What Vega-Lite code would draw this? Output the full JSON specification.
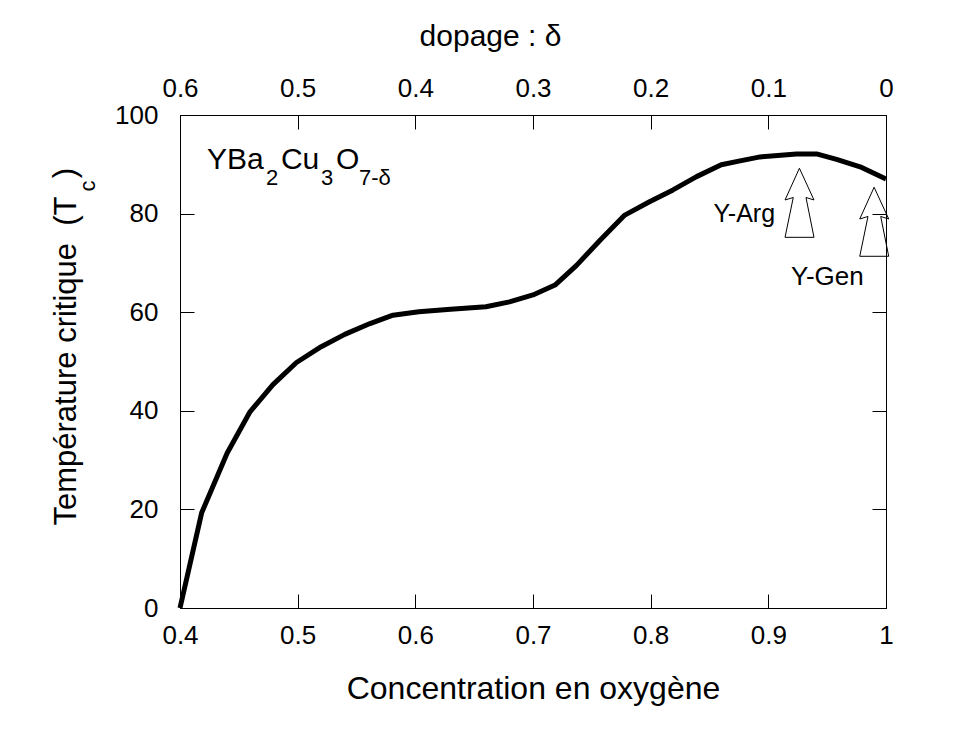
{
  "$schema": "https://vega.github.io/schema/vega-lite/v6.json",
  "width": 706,
  "height": 493,
  "autosize": "none",
  "padding": {"left": 180, "top": 115, "right": 67, "bottom": 121},
  "background": "white",
  "config": {
    "font": "Liberation Sans",
    "view": {"stroke": "black", "strokeWidth": 1},
    "axis": {
      "grid": false,
      "domainColor": "black",
      "domainWidth": 1,
      "tickColor": "black",
      "tickWidth": 1,
      "tickSize": -14,
      "labelColor": "black",
      "labelFontSize": 26,
      "labelFlush": false,
      "labelOverlap": false,
      "titleColor": "black",
      "titleFontSize": 30,
      "titleFontWeight": "normal",
      "titleLimit": 1000
    }
  },
  "datasets": {
    "curve": [
      {"conc": 0.4, "tc": 0},
      {"conc": 0.4184, "tc": 19.3},
      {"conc": 0.44, "tc": 31.4},
      {"conc": 0.4595, "tc": 39.8},
      {"conc": 0.479, "tc": 45.3},
      {"conc": 0.499, "tc": 49.8},
      {"conc": 0.52, "tc": 53.0},
      {"conc": 0.54, "tc": 55.5},
      {"conc": 0.5615, "tc": 57.7},
      {"conc": 0.581, "tc": 59.4},
      {"conc": 0.603, "tc": 60.1},
      {"conc": 0.63, "tc": 60.6},
      {"conc": 0.66, "tc": 61.1},
      {"conc": 0.68, "tc": 62.1},
      {"conc": 0.7, "tc": 63.5},
      {"conc": 0.7187, "tc": 65.5},
      {"conc": 0.737, "tc": 69.5},
      {"conc": 0.757, "tc": 74.6},
      {"conc": 0.778, "tc": 79.7},
      {"conc": 0.799, "tc": 82.4},
      {"conc": 0.819, "tc": 84.8},
      {"conc": 0.839, "tc": 87.5},
      {"conc": 0.86, "tc": 89.9},
      {"conc": 0.876, "tc": 90.7},
      {"conc": 0.893, "tc": 91.5},
      {"conc": 0.924, "tc": 92.1},
      {"conc": 0.941, "tc": 92.1},
      {"conc": 0.958, "tc": 91.0},
      {"conc": 0.978, "tc": 89.5},
      {"conc": 1.0, "tc": 87.0}
    ],
    "arrows": [
      {"arrow": "Arg", "ord": 0, "conc": 0.9264, "tc": 89.2},
      {"arrow": "Arg", "ord": 1, "conc": 0.9388, "tc": 82.76},
      {"arrow": "Arg", "ord": 2, "conc": 0.932, "tc": 83.27},
      {"arrow": "Arg", "ord": 3, "conc": 0.9388, "tc": 75.19},
      {"arrow": "Arg", "ord": 4, "conc": 0.9142, "tc": 75.19},
      {"arrow": "Arg", "ord": 5, "conc": 0.9212, "tc": 83.27},
      {"arrow": "Arg", "ord": 6, "conc": 0.9142, "tc": 82.76},
      {"arrow": "Arg", "ord": 7, "conc": 0.9264, "tc": 89.2},
      {"arrow": "Gen", "ord": 0, "conc": 0.9899, "tc": 85.35},
      {"arrow": "Gen", "ord": 1, "conc": 1.0023, "tc": 78.91},
      {"arrow": "Gen", "ord": 2, "conc": 0.9955, "tc": 79.42},
      {"arrow": "Gen", "ord": 3, "conc": 1.0023, "tc": 71.34},
      {"arrow": "Gen", "ord": 4, "conc": 0.9777, "tc": 71.34},
      {"arrow": "Gen", "ord": 5, "conc": 0.9847, "tc": 79.42},
      {"arrow": "Gen", "ord": 6, "conc": 0.9777, "tc": 78.91},
      {"arrow": "Gen", "ord": 7, "conc": 0.9899, "tc": 85.35}
    ],
    "formulaMain": [
      {"conc": 0.4229, "tc": 89.05, "txt": "YBa"},
      {"conc": 0.4858, "tc": 89.05, "txt": "Cu"},
      {"conc": 0.5326, "tc": 89.05, "txt": "O"}
    ],
    "formulaSub": [
      {"conc": 0.4731, "tc": 85.8, "txt": "2"},
      {"conc": 0.5198, "tc": 85.8, "txt": "3"},
      {"conc": 0.5521, "tc": 85.8, "txt": "7-δ"}
    ],
    "labelsRight": [
      {"conc": 0.9057, "tc": 78.3, "txt": "Y-Arg"}
    ],
    "labelsLeft": [
      {"conc": 0.9192, "tc": 65.5, "txt": "Y-Gen"}
    ],
    "ysub": [
      {"conc": 0.3278, "tc": 85.6, "txt": "c"}
    ],
    "yparen": [
      {"conc": 0.3108, "tc": 88.2, "txt": ")"}
    ]
  },
  "layer": [
    {
      "data": {"name": "curve"},
      "mark": {"type": "line", "color": "black", "strokeWidth": 5, "strokeJoin": "round"},
      "encoding": {
        "x": {
          "field": "conc", "type": "quantitative",
          "scale": {"domain": [0.4, 1.0], "nice": false, "zero": false},
          "axis": {
            "orient": "bottom",
            "values": [0.4, 0.5, 0.6, 0.7, 0.8, 0.9, 1.0],
            "format": ".1~f",
            "labelPadding": 28,
            "title": "Concentration en oxygène",
            "titleFontSize": 32,
            "titleBaseline": "alphabetic",
            "titleY": 90
          }
        },
        "y": {
          "field": "tc", "type": "quantitative",
          "scale": {"domain": [0, 100], "nice": false},
          "axis": {
            "orient": "left",
            "values": [0, 20, 40, 60, 80, 100],
            "labelPadding": 36,
            "title": "Température critique\u00a0\u00a0(T",
            "titleFontSize": 31,
            "titleAngle": 270,
            "titleAlign": "left",
            "titleBaseline": "alphabetic",
            "titleX": -105,
            "titleY": 410
          }
        }
      }
    },
    {
      "data": {"name": "arrows"},
      "mark": {"type": "line", "color": "black", "strokeWidth": 1, "strokeJoin": "miter"},
      "encoding": {
        "x": {
          "field": "conc", "type": "quantitative",
          "axis": {
            "orient": "top",
            "values": [0.4, 0.5, 0.6, 0.7, 0.8, 0.9, 1.0],
            "labelExpr": "format(1 - datum.value, '.1~f')",
            "labelPadding": 28,
            "title": "dopage : δ",
            "titleBaseline": "alphabetic",
            "titleX": 310,
            "titleY": -70
          }
        },
        "y": {
          "field": "tc", "type": "quantitative",
          "axis": {
            "orient": "right",
            "values": [0, 20, 40, 60, 80, 100],
            "labels": false,
            "title": null
          }
        },
        "detail": {"field": "arrow"},
        "order": {"field": "ord", "type": "quantitative"}
      }
    },
    {
      "data": {"name": "formulaMain"},
      "mark": {"type": "text", "fontSize": 30, "align": "left", "baseline": "alphabetic", "color": "black"},
      "encoding": {
        "x": {"field": "conc", "type": "quantitative", "axis": null},
        "y": {"field": "tc", "type": "quantitative", "axis": null},
        "text": {"field": "txt"}
      }
    },
    {
      "data": {"name": "formulaSub"},
      "mark": {"type": "text", "fontSize": 22, "align": "left", "baseline": "alphabetic", "color": "black"},
      "encoding": {
        "x": {"field": "conc", "type": "quantitative", "axis": null},
        "y": {"field": "tc", "type": "quantitative", "axis": null},
        "text": {"field": "txt"}
      }
    },
    {
      "data": {"name": "labelsRight"},
      "mark": {"type": "text", "fontSize": 25, "align": "right", "baseline": "alphabetic", "color": "black"},
      "encoding": {
        "x": {"field": "conc", "type": "quantitative", "axis": null},
        "y": {"field": "tc", "type": "quantitative", "axis": null},
        "text": {"field": "txt"}
      }
    },
    {
      "data": {"name": "labelsLeft"},
      "mark": {"type": "text", "fontSize": 26, "align": "left", "baseline": "alphabetic", "color": "black"},
      "encoding": {
        "x": {"field": "conc", "type": "quantitative", "axis": null},
        "y": {"field": "tc", "type": "quantitative", "axis": null},
        "text": {"field": "txt"}
      }
    },
    {
      "data": {"name": "ysub"},
      "mark": {"type": "text", "fontSize": 22, "align": "center", "baseline": "alphabetic", "angle": 270, "color": "black"},
      "encoding": {
        "x": {"field": "conc", "type": "quantitative", "axis": null},
        "y": {"field": "tc", "type": "quantitative", "axis": null},
        "text": {"field": "txt"}
      }
    },
    {
      "data": {"name": "yparen"},
      "mark": {"type": "text", "fontSize": 31, "align": "center", "baseline": "alphabetic", "angle": 270, "color": "black"},
      "encoding": {
        "x": {"field": "conc", "type": "quantitative", "axis": null},
        "y": {"field": "tc", "type": "quantitative", "axis": null},
        "text": {"field": "txt"}
      }
    }
  ],
  "resolve": {"axis": {"x": "independent", "y": "independent"}}
}
